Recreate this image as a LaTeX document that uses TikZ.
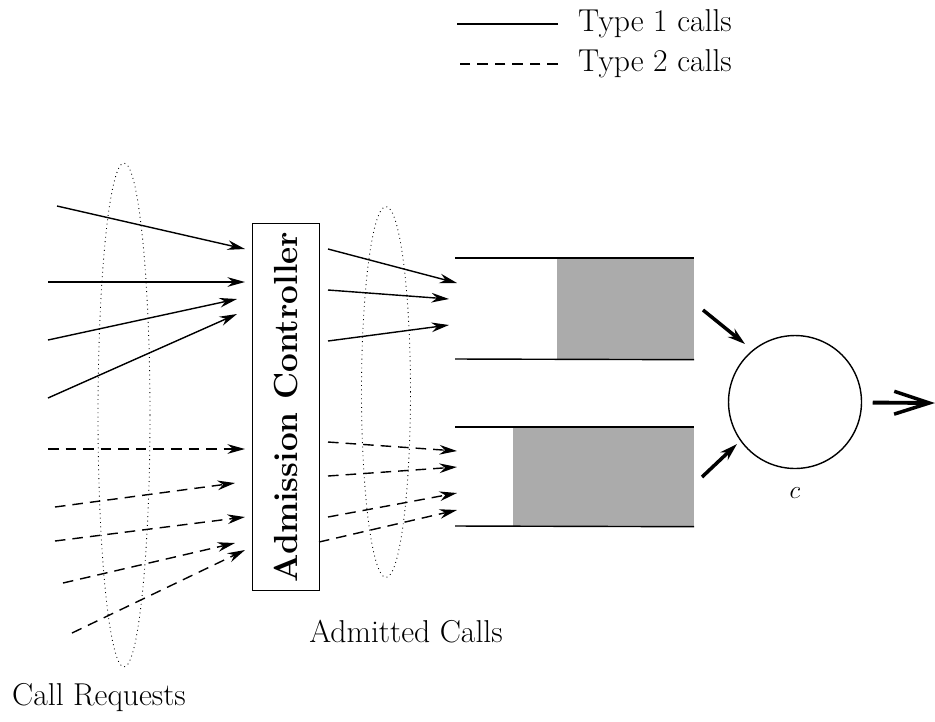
\documentclass[tikz,border=0pt]{standalone}
\usepackage{tikz}
\usetikzlibrary{arrows.meta, positioning, shapes.geometric}

\tikzset{
  call/.style={->, line width=0.8pt},
  call2/.style={call, dash pattern=on 6pt off 4pt},
  group/.style={draw, dotted, ellipse, inner sep=0pt, line width=0.5pt},
  buffer/.style={fill=black!33, inner sep=0pt, anchor=north east},
  feed/.style={-{Stealth[length=10pt,width=6pt]}, line width=2pt},
  label/.style={font=\fontsize{18}{21}\selectfont}
}

\begin{document}
\begin{tikzpicture}[x=0.02cm, y=-0.02cm, >={Stealth[length=10pt,width=5.5pt]}]
  \useasboundingbox (0,0) rectangle (935,721);

  % legend
  \node[label, anchor=west] (leg1) at (572,24) {Type 1 calls};
  \node[label, anchor=west] (leg2) at (572,64) {Type 2 calls};
  \draw[line width=0.8pt] (leg1.west) ++(-0.28cm,0) -- ++(-2.02cm,0);
  \draw[line width=0.8pt, dash pattern=on 6pt off 4pt] (leg2.west) ++(-0.28cm,0) -- ++(-2.02cm,0);

  % admission controller
  \node[draw, rotate=90, minimum width=7.34cm, minimum height=1.34cm, line width=0.8pt,
        font=\fontsize{19}{22}\selectfont\bfseries] (ac) at (286,407) {Admission Controller};

  % groups of calls
  \node[group, minimum width=1.04cm, minimum height=10.08cm] (reqs) at (124,415) {};
  \node[group, minimum width=0.98cm, minimum height=7.42cm] (adm) at (386,392) {};
  \node[label, anchor=west] (reqlabel) at (6,698) {Call Requests};
  \node[label] (admlabel) at (406,632) {Admitted Calls};

  % call requests
  \foreach \xa/\ya/\xb/\yb [count=\i] in {57/206/245/249, 48/282/245/282, 48/340/237/299, 48/398/237/314}
  {
    \coordinate (req\i) at (\xa,\ya);
    \coordinate (acin\i) at (\xb,\yb);
    \draw[call] (req\i) -- (acin\i);
  }
  \foreach \xa/\ya/\xb/\yb [count=\i] in {48/449/245/449, 55/507/235/483, 55/541/245/517, 63/583/235/543, 72/633/245/550}
  {
    \coordinate (reqb\i) at (\xa,\ya);
    \coordinate (acinb\i) at (\xb,\yb);
    \draw[call2] (reqb\i) -- (acinb\i);
  }

  % admitted calls
  \foreach \xa/\ya/\xb/\yb [count=\i] in {328/249/457/283, 328/290/449/299, 328/341/449/325}
  {
    \coordinate (acout\i) at (\xa,\ya);
    \coordinate (qin\i) at (\xb,\yb);
    \draw[call] (acout\i) -- (qin\i);
  }
  \foreach \xa/\ya/\xb/\yb [count=\i] in {328/442/457/451, 328/476/457/467, 328/517/457/493, 319/542/457/510}
  {
    \coordinate (acoutb\i) at (\xa,\ya);
    \coordinate (qinb\i) at (\xb,\yb);
    \draw[call2] (acoutb\i) -- (qinb\i);
  }

  % queues
  \node[buffer, minimum width=2.74cm, minimum height=2.02cm] (buf1) at (694,258) {};
  \node[buffer, minimum width=3.62cm, minimum height=1.98cm] (buf2) at (694,427) {};
  \draw[line width=0.8pt] (455,258) -- (buf1.north east);
  \draw[line width=0.8pt] (455,359) -- (buf1.south east);
  \draw[line width=0.8pt] (455,427) -- (buf2.north east);
  \draw[line width=0.8pt] (455,526) -- (buf2.south east);

  % server
  \node[draw, circle, minimum size=2.66cm, line width=0.8pt] (srv) at (795,402) {};
  \node[below=0.25cm of srv, font=\Large] (cap) {$c$};
  \coordinate (f1) at (703,310);
  \coordinate (f2) at (702,477);
  \coordinate (out) at (935,403);
  \draw[feed] (f1) -- (745,344);
  \draw[feed] (f2) -- (737,444);
  \draw[-{Straight Barb[length=20pt,width=13pt,line width=2pt]}, line width=2.2pt, shorten <=6pt] (srv) -- (out);
\end{tikzpicture}
\end{document}
